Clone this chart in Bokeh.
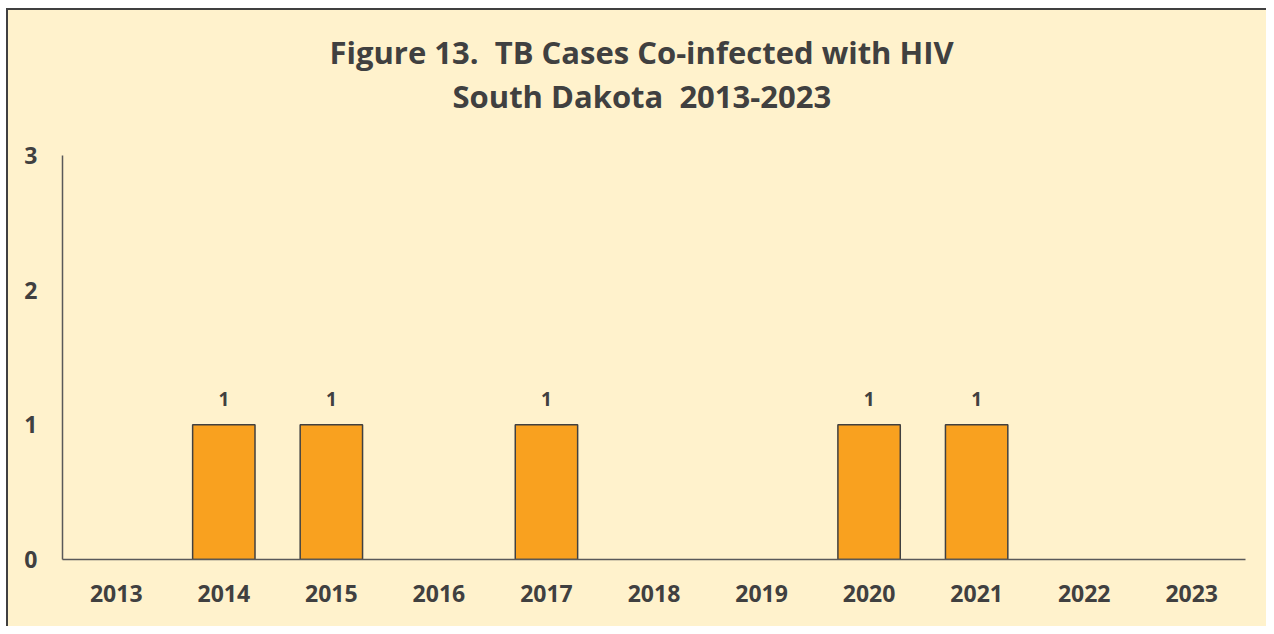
from bokeh.plotting import figure
from bokeh.models import ColumnDataSource, FixedTicker, LabelSet, Range1d, Title
from bokeh.core.properties import value
from bokeh.embed import file_html
from bokeh.resources import INLINE

years = ["2013", "2014", "2015", "2016", "2017", "2018", "2019", "2020", "2021", "2022", "2023"]
cases = [0, 1, 1, 0, 1, 0, 0, 1, 1, 0, 0]
title_line1 = "Figure 13.\u00a0 TB Cases Co-infected with HIV"
title_line2 = "South Dakota\u00a0 2013-2023"

FONT = "Open Sans"
TXT = "#404040"
BG = "#FFF2CC"

bar_years = [y for y, c in zip(years, cases) if c > 0]
bar_vals = [c for c in cases if c > 0]
src = ColumnDataSource(dict(year=bar_years, val=bar_vals, lab=[str(v) for v in bar_vals]))

p = figure(x_range=years, y_range=Range1d(0, 3), width=1266, height=626,
           output_backend="svg", toolbar_location=None,
           min_border_left=62, min_border_right=21, min_border_top=155, min_border_bottom=67)
p.background_fill_color = BG
p.border_fill_color = None
p.outline_line_color = None
p.styles = {"background-color": BG,
            "box-shadow": "inset 6px 8px 0 0 #ffffff, inset 8px 10px 0 0 #404040"}

p.vbar(x="year", top="val", width=0.58, source=src, fill_color="#F9A11F",
       line_color="#404040", line_width=1.5)

labels = LabelSet(x="year", y="val", text="lab", source=src, y_offset=19,
                  text_align="center", text_baseline="bottom",
                  text_font=value(FONT), text_font_style="bold",
                  text_font_size="19px", text_color=TXT)
p.add_layout(labels)

p.xgrid.grid_line_color = None
p.ygrid.grid_line_color = None

for ax in (p.xaxis, p.yaxis):
    ax.axis_line_color = "#595959"
    ax.axis_line_width = 1.5
    ax.major_tick_line_color = None
    ax.minor_tick_line_color = None
    ax.major_tick_out = 0
    ax.major_tick_in = 0
    ax.major_label_text_font = FONT
    ax.major_label_text_font_style = "bold"
    ax.major_label_text_font_size = "23px"
    ax.major_label_text_color = TXT

p.xaxis.major_label_standoff = 25
p.yaxis.major_label_standoff = 25
p.yaxis.ticker = FixedTicker(ticks=[0, 1, 2, 3])
p.x_range.range_padding = 0

# spacer between the plot frame and the two title lines
p.add_layout(Title(text=" ", text_font_size="1px", standoff=36), "above")
p.add_layout(Title(text=title_line2, align="left", offset=390,
                   text_font=FONT, text_font_style="bold",
                   text_font_size="31px", text_color=TXT, standoff=0), "above")
p.add_layout(Title(text=title_line1, align="left", offset=267,
                   text_font=FONT, text_font_style="bold",
                   text_font_size="31px", text_color=TXT, standoff=0), "above")

open("out.html", "w").write(file_html(p, INLINE))
